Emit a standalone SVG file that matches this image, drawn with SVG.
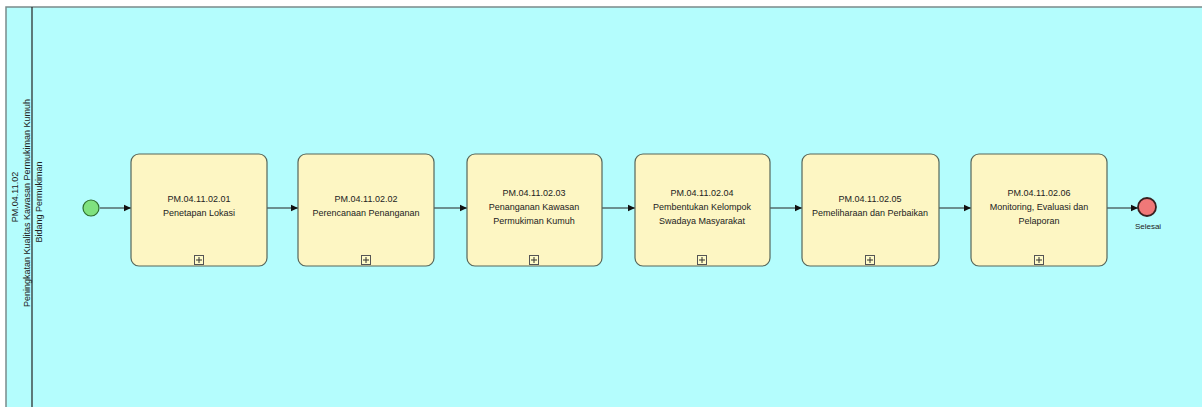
<svg xmlns="http://www.w3.org/2000/svg" width="1202" height="407" viewBox="0 0 1202 407">
<defs>
<marker id="arr" markerWidth="8" markerHeight="8" refX="7" refY="4" orient="auto" markerUnits="userSpaceOnUse">
<path d="M0,0.8 L7,4 L0,7.2 Z" fill="#111"/>
</marker>
<g id="plus">
<rect x="-4.5" y="-4.5" width="9" height="9" fill="#fffbc8" stroke="#555" stroke-width="1"/>
<path d="M-3,0 H3 M0,-3 V3" stroke="#333" stroke-width="1"/>
</g>
</defs>
<style>
.task{fill:#fdf6c3;stroke:#56665a;stroke-width:1.2}
.t{font-family:"Liberation Sans",Arial,sans-serif;font-size:9px;fill:#222;text-anchor:middle}
.c{stroke:#222;stroke-width:1;fill:none}
</style>
<rect x="0" y="0" width="1202" height="407" fill="#ffffff"/>
<g id="pool">
<rect x="6" y="7" width="1210" height="420" fill="#b4fdfd" stroke="#7a8a8a" stroke-width="1.5"/>
<line x1="32" y1="7" x2="32" y2="407" stroke="#222" stroke-width="1.2"/>
<text class="t" transform="translate(18,197) rotate(-90)">PM.04.11.02</text>
<text class="t" transform="translate(30,203) rotate(-90)">Peningkatan Kualitas Kawasan Permukiman Kumuh</text>
<text class="t" transform="translate(42,202) rotate(-90)">Bidang Permukiman</text>
</g>
<g id="connectors">
<line class="c" x1="100" y1="208" x2="131" y2="208" marker-end="url(#arr)"/>
<line class="c" x1="267" y1="208" x2="298" y2="208" marker-end="url(#arr)"/>
<line class="c" x1="434" y1="208" x2="467" y2="208" marker-end="url(#arr)"/>
<line class="c" x1="602" y1="208" x2="635" y2="208" marker-end="url(#arr)"/>
<line class="c" x1="770" y1="208" x2="802" y2="208" marker-end="url(#arr)"/>
<line class="c" x1="939" y1="208" x2="971" y2="208" marker-end="url(#arr)"/>
<line class="c" x1="1107" y1="208" x2="1138" y2="208" marker-end="url(#arr)"/>
</g>
<g id="start">
<circle cx="91" cy="208" r="8" fill="#7fe27f" stroke="#2f6f2f" stroke-width="1.2"/>
</g>
<g id="task1">
<rect class="task" x="131" y="154" width="136" height="112" rx="8"/>
<text class="t" x="199" y="202">PM.04.11.02.01</text>
<text class="t" x="199" y="216">Penetapan Lokasi</text>
<use href="#plus" x="199" y="260"/>
</g>
<g id="task2">
<rect class="task" x="298" y="154" width="136" height="112" rx="8"/>
<text class="t" x="366" y="202">PM.04.11.02.02</text>
<text class="t" x="366" y="216">Perencanaan Penanganan</text>
<use href="#plus" x="366" y="260"/>
</g>
<g id="task3">
<rect class="task" x="467" y="154" width="135" height="112" rx="8"/>
<text class="t" x="534" y="196">PM.04.11.02.03</text>
<text class="t" x="534" y="210">Penanganan Kawasan</text>
<text class="t" x="534" y="224">Permukiman Kumuh</text>
<use href="#plus" x="534" y="260"/>
</g>
<g id="task4">
<rect class="task" x="635" y="154" width="135" height="112" rx="8"/>
<text class="t" x="702" y="196">PM.04.11.02.04</text>
<text class="t" x="702" y="210">Pembentukan Kelompok</text>
<text class="t" x="702" y="224">Swadaya Masyarakat</text>
<use href="#plus" x="702" y="260"/>
</g>
<g id="task5">
<rect class="task" x="802" y="154" width="137" height="112" rx="8"/>
<text class="t" x="870" y="202">PM.04.11.02.05</text>
<text class="t" x="870" y="216">Pemeliharaan dan Perbaikan</text>
<use href="#plus" x="870" y="260"/>
</g>
<g id="task6">
<rect class="task" x="971" y="154" width="136" height="112" rx="8"/>
<text class="t" x="1039" y="196">PM.04.11.02.06</text>
<text class="t" x="1039" y="210">Monitoring, Evaluasi dan</text>
<text class="t" x="1039" y="224">Pelaporan</text>
<use href="#plus" x="1039" y="260"/>
</g>
<g id="end">
<circle cx="1147" cy="207" r="9" fill="#f07878" stroke="#3a2020" stroke-width="1.8"/>
<text class="t" x="1148" y="229" style="font-size:8px">Selesai</text>
</g>
</svg>
